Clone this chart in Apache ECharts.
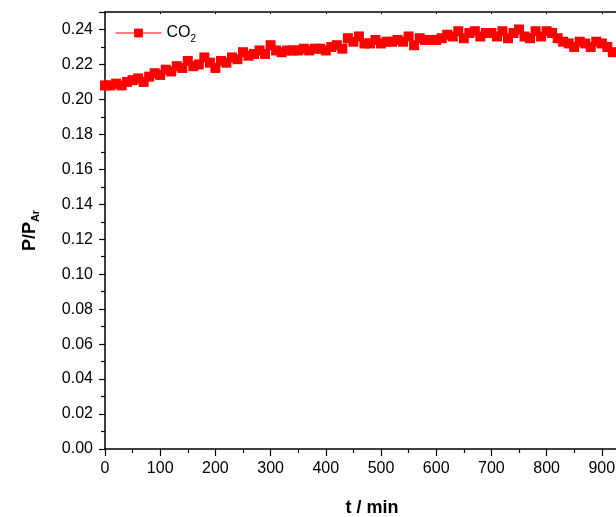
<!DOCTYPE html>
<html><head><meta charset="utf-8">
<script src="https://cdn.jsdelivr.net/npm/echarts@6/dist/echarts.min.js"></script>
<style>html,body{margin:0;padding:0;background:#fff}#c{width:616px;height:517px}</style>
</head><body><div id="c"></div>
<script>
const tMin = [0,10,20,30,40,50,60,70,80,90,100,110,120,130,140,150,160,170,180,190,200,210,220,230,240,250,260,270,280,290,300,310,320,330,340,350,360,370,380,390,400,410,420,430,440,450,460,470,480,490,500,510,520,530,540,550,560,570,580,590,600,610,620,630,640,650,660,670,680,690,700,710,720,730,740,750,760,770,780,790,800,810,820,830,840,850,860,870,880,890,900,910,920];
const co2 = [0.208,0.208,0.209,0.208,0.210,0.211,0.212,0.210,0.213,0.215,0.214,0.217,0.216,0.219,0.218,0.222,0.219,0.220,0.224,0.221,0.218,0.222,0.221,0.224,0.223,0.227,0.225,0.226,0.228,0.226,0.231,0.228,0.227,0.228,0.228,0.228,0.229,0.228,0.229,0.229,0.228,0.230,0.231,0.229,0.235,0.233,0.236,0.232,0.232,0.234,0.232,0.233,0.233,0.234,0.233,0.236,0.231,0.235,0.234,0.234,0.234,0.235,0.237,0.236,0.239,0.235,0.238,0.239,0.236,0.238,0.238,0.236,0.239,0.235,0.238,0.240,0.236,0.235,0.239,0.236,0.239,0.238,0.235,0.233,0.232,0.230,0.233,0.232,0.230,0.233,0.232,0.230,0.227];
const xTicks = [0,100,200,300,400,500,600,700,800,900,1000];
const yTicks = [0.00,0.02,0.04,0.06,0.08,0.10,0.12,0.14,0.16,0.18,0.20,0.22,0.24];

const chart = echarts.init(document.getElementById('c'), null, {renderer:'canvas'});
const F = 'Liberation Sans, Arial, sans-serif';
const axisLine = {show:true, lineStyle:{color:'#000', width:1.5}};
chart.setOption({
  animation:false,
  grid:{left:105, top:12, width:552, height:437, containLabel:false, outerBoundsMode:'none'},
  legend:{
    left:110, top:20, itemWidth:46, itemHeight:11, itemGap:8,
    data:['CO2'],
    lineStyle:{width:1},
    formatter: () => 'CO{s|2}',
    textStyle:{fontFamily:F, fontSize:16, color:'#000', rich:{s:{fontSize:10, verticalAlign:'bottom', padding:[12,0,0,0], fontFamily:F}}}
  },
  xAxis:[{
    type:'value', min:0, max:1000, interval:100, position:'bottom',
    name:'t / min', nameLocation:'middle', nameGap:50,
    nameTextStyle:{fontFamily:F, fontSize:18, fontWeight:'bold', color:'#000', padding:[0,18,0,0]},
    axisLine, splitLine:{show:false},
    axisTick:{show:true, length:7, lineStyle:{color:'#000', width:1.2}},
    minorTick:{show:true, splitNumber:2, length:4, lineStyle:{color:'#000', width:1.2}},
    axisLabel:{fontFamily:F, fontSize:16, color:'#000', margin:12,
      formatter: v => xTicks.includes(v) ? String(v) : ''}
  },{
    type:'value', min:0, max:1000, interval:100, position:'top',
    axisLine, splitLine:{show:false},
    axisTick:{show:true, inside:true, length:2, lineStyle:{color:'#000'}},
    axisLabel:{show:false}
  }],
  yAxis:[{
    type:'value', min:0, max:0.25, interval:0.02,
    name:'P/P{s|Ar}', nameLocation:'middle', nameGap:64, nameRotate:90,
    nameTextStyle:{fontFamily:F, fontSize:18, fontWeight:'bold', color:'#000',
      rich:{s:{fontFamily:F, fontSize:11, fontWeight:'bold', verticalAlign:'bottom', padding:[10,0,0,0]}}},
    axisLine, splitLine:{show:false},
    axisTick:{show:true, length:6, lineStyle:{color:'#000', width:1.2}},
    minorTick:{show:true, splitNumber:2, length:4, lineStyle:{color:'#000', width:1.2}},
    axisLabel:{fontFamily:F, fontSize:16, color:'#000', margin:12,
      formatter: v => yTicks.some(t => Math.abs(t - v) < 1e-9) ? v.toFixed(2) : ''}
  }],
  series:[{
    name:'CO2', type:'line', xAxisIndex:0, yAxisIndex:0,
    data: tMin.map((t,i)=>[t, co2[i]]),
    symbol:'rect', symbolSize:10, showAllSymbol:true,
    itemStyle:{color:'#ff0000'}, lineStyle:{color:'#ff0000', width:1},
    clip:false
  }]
});
</script></body></html>
